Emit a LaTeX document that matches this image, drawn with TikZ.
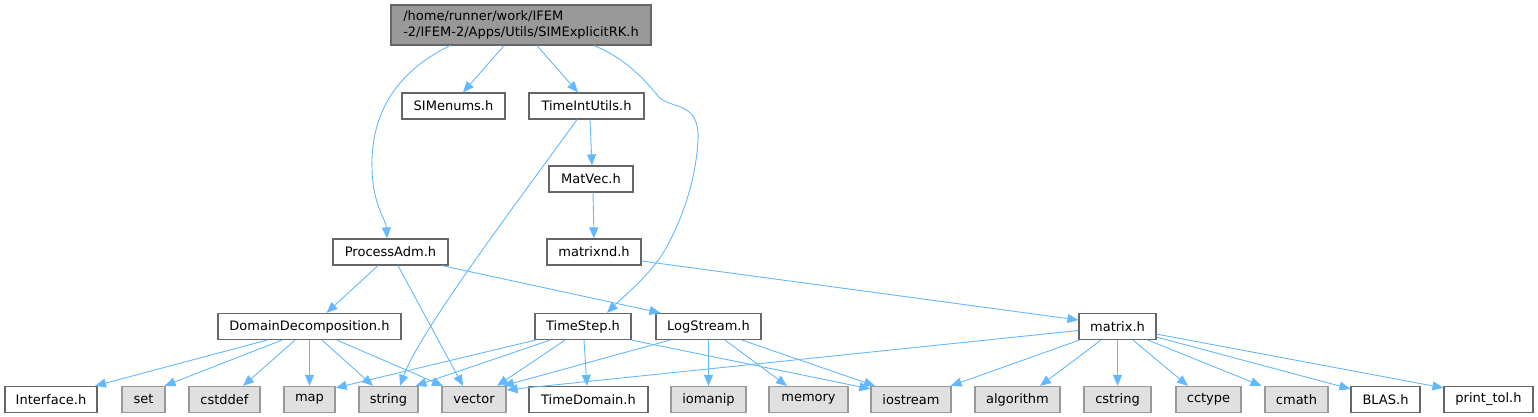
\documentclass[tikz,border=0pt]{standalone}
\usepackage{fontspec}
\setmainfont{DejaVu Sans}
\usetikzlibrary{arrows.meta,calc}
\definecolor{edgeblue}{HTML}{63B8FF}
\definecolor{sysfill}{HTML}{E0E0E0}
\definecolor{sysdraw}{HTML}{999999}
\definecolor{hdrdraw}{HTML}{666666}
\definecolor{rootfill}{HTML}{999999}
\begin{document}
\begin{tikzpicture}[x=1pt,y=-1pt,
  every node/.style={font=\fontsize{13}{16.5}\selectfont, inner sep=0pt, minimum height=26pt, line width=1.2pt},
  hdr/.style={draw=hdrdraw, fill=white},
  sys/.style={draw=sysdraw, fill=sysfill},
  rootnode/.style={draw=hdrdraw, fill=rootfill, minimum height=40pt, align=left},
  dep/.style={draw=edgeblue, line width=0.9pt, -{Triangle[length=11pt,width=9pt]}}]
\useasboundingbox (0,0) rectangle (1538,417);
% nodes
\node[rootnode, minimum width=260pt] (root) at (521,25) {/home/runner/work/IFEM\\-2/IFEM-2/Apps/Utils/SIMExplicitRK.h};
\node[hdr, minimum width=103pt] (sime) at (453.5,106) {SIMenums.h};
\node[hdr, minimum width=115pt] (tiu) at (586.5,106) {TimeIntUtils.h};
\node[hdr, minimum width=84pt] (mv) at (591,179) {MatVec.h};
\node[hdr, minimum width=94pt] (mnd) at (594,252) {matrixnd.h};
\node[hdr, minimum width=115pt] (pa) at (390.5,252) {ProcessAdm.h};
\node[hdr, minimum width=183pt] (dd) at (309.5,326.5) {DomainDecomposition.h};
\node[hdr, minimum width=96pt] (ts) at (583,326.5) {TimeStep.h};
\node[hdr, minimum width=105pt] (ls) at (708.5,326.5) {LogStream.h};
\node[hdr, minimum width=77pt] (mx) at (1117.5,326.5) {matrix.h};
% bottom row
\node[hdr, minimum width=92pt] (iface) at (51,399.5) {Interface.h};
\node[sys, minimum width=43pt] (set) at (143.5,399.5) {set};
\node[sys, minimum width=71pt] (cstddef) at (224.5,399.5) {cstddef};
\node[sys, minimum width=51pt] (map) at (309.5,399.5) {map};
\node[sys, minimum width=59pt] (string) at (388.5,399.5) {string};
\node[sys, minimum width=64pt] (vector) at (474,399.5) {vector};
\node[hdr, minimum width=119pt] (tdom) at (588.5,399.5) {TimeDomain.h};
\node[sys, minimum width=75pt] (iomanip) at (708.5,399.5) {iomanip};
\node[sys, minimum width=79pt] (memory) at (808.5,399.5) {memory};
\node[sys, minimum width=80pt] (iostream) at (911,399.5) {iostream};
\node[sys, minimum width=85pt] (algorithm) at (1017.5,399.5) {algorithm};
\node[sys, minimum width=67pt] (cstring) at (1117.5,399.5) {cstring};
\node[sys, minimum width=65pt] (cctype) at (1208.5,399.5) {cctype};
\node[sys, minimum width=63pt] (cmath) at (1296.5,399.5) {cmath};
\node[hdr, minimum width=69pt] (blas) at (1385.5,399.5) {BLAS.h};
\node[hdr, minimum width=89pt] (ptol) at (1488.5,399.5) {print\_tol.h};
% edges from root
\draw[dep] ([xshift=-71pt]root.south) .. controls (400,70) and (370,110) .. (372,170) .. controls (373,205) and (386,220) .. ([xshift=-3.5pt]pa.north);
\draw[dep] ([xshift=-17pt]root.south) -- ([xshift=9.5pt]sime.north);
\draw[dep] ([xshift=16pt]root.south) -- ([xshift=-8.5pt]tiu.north);
\draw[dep] ([xshift=73pt]root.south) .. controls (625,58) and (645,80) .. (658,96) .. controls (670,110) and (700,100) .. (698,140) .. controls (696,180) and (682,220) .. (665,250) .. controls (650,275) and (625,295) .. ([xshift=24pt]ts.north);
% TimeIntUtils
\draw[dep] ([xshift=-9.5pt]tiu.south) .. controls (530,185) and (420,330) .. ([xshift=11.5pt]string.north);
\draw[dep] ([xshift=3.5pt]tiu.south) -- ([xshift=1pt]mv.north);
\draw[dep] ([xshift=2pt]mv.south) -- (mnd.north);
\draw[dep] ([yshift=-9pt]mnd.east) -- ([yshift=6.5pt]mx.west);
% ProcessAdm
\draw[dep] ([xshift=-12.5pt]pa.south) -- ([xshift=17pt]dd.north);
\draw[dep] ([xshift=7.5pt]pa.south) -- ([xshift=-11pt]vector.north);
\draw[dep] ([xshift=51.5pt]pa.south) -- ([xshift=-48pt]ls.north);
% DomainDecomposition
\draw[dep] ([xshift=-42.5pt]dd.south) -- ([xshift=44pt]iface.north);
\draw[dep] ([xshift=-27.5pt]dd.south) -- ([xshift=21pt]set.north);
\draw[dep] ([xshift=-14.5pt]dd.south) -- ([xshift=18.5pt]cstddef.north);
\draw[dep] (dd.south) -- (map.north);
\draw[dep] ([xshift=12.5pt]dd.south) -- ([xshift=-15.5pt]string.north);
\draw[dep] ([xshift=27.5pt]dd.south) -- ([xshift=-31pt]vector.north);
% TimeStep
\draw[dep] ([xshift=1pt]ts.south west) -- ([yshift=-2pt]map.north east);
\draw[dep] ([xshift=-33pt]ts.south) -- ([xshift=27pt]string.north);
\draw[dep] ([xshift=-18pt]ts.south) -- ([xshift=23pt]vector.north);
\draw[dep] ([xshift=1pt]ts.south) -- ([xshift=-1.5pt]tdom.north);
\draw[dep] (ts.south east) -- ([yshift=-3pt]iostream.north west);
% LogStream
\draw[dep] ([xshift=-38.5pt]ls.south) -- ([xshift=29pt]vector.north);
\draw[dep] (ls.south) -- (iomanip.north);
\draw[dep] ([xshift=16.5pt]ls.south) -- ([xshift=-21.5pt]memory.north);
\draw[dep] ([xshift=33.5pt]ls.south) -- ([xshift=-36pt]iostream.north);
% matrix
\draw[dep] ([yshift=-4pt]mx.west) -- ([yshift=-4pt]vector.north east);
\draw[dep] ([xshift=1pt]mx.south west) -- ([xshift=-1pt]iostream.north east);
\draw[dep] ([xshift=-16.5pt]mx.south) -- ([xshift=22.5pt]algorithm.north);
\draw[dep] (mx.south) -- (cstring.north);
\draw[dep] ([xshift=15.5pt]mx.south) -- ([xshift=-20.5pt]cctype.north);
\draw[dep] ([xshift=30.5pt]mx.south) -- ([xshift=-35pt]cmath.north);
\draw[dep] ([yshift=3pt]mx.south east) -- ([yshift=-3pt]blas.north west);
\draw[dep] ([yshift=6pt]mx.south east) -- ([yshift=-2pt]ptol.north west);
\end{tikzpicture}
\end{document}
